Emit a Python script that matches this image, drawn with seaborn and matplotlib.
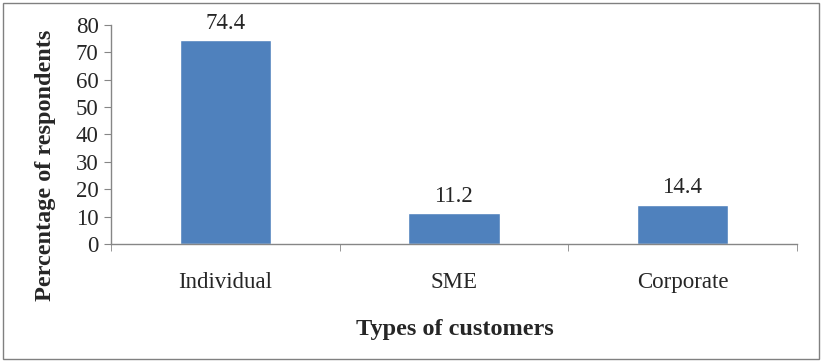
import matplotlib
matplotlib.use("Agg")
from matplotlib import pyplot as plt
from matplotlib.patches import Rectangle
import seaborn as sns
import pandas as pd

customers = ["Individual", "SME", "Corporate"]
percent = [74.4, 11.2, 14.4]
y_ticks = [0, 10, 20, 30, 40, 50, 60, 70, 80]

sns.set_style("white")
plt.rcParams['font.family'] = ['Liberation Serif', 'DejaVu Serif']

df = pd.DataFrame({"type": customers, "pct": percent})

fig = plt.figure(figsize=(8.23, 3.62), dpi=100)
ax = fig.add_axes([0.135, 0.326, 0.833, 0.605])
sns.barplot(data=df, x="type", y="pct", color="#4F81BD", saturation=1,
            width=0.4, ax=ax)

for i, v in enumerate(percent):
    ax.text(i, v + 2.3, f"{v}", ha="center", va="bottom", fontsize=16.5)

ax.set_xlim(-0.5, 2.5)
ax.set_ylim(0, 80)
ax.set_yticks(y_ticks)
ax.set_xticks([-0.5, 0.5, 1.5, 2.5], minor=True)
ax.tick_params(axis="x", which="major", length=0, pad=20, labelsize=16.5)
ax.tick_params(axis="x", which="minor", length=5, color="#868686", direction="out", bottom=True)
ax.tick_params(axis="y", length=5, color="#868686", direction="out", left=True, labelsize=16.5, pad=4)

for s in ["top", "right"]:
    ax.spines[s].set_visible(False)
for s in ["left", "bottom"]:
    ax.spines[s].set_color("#868686")
    ax.spines[s].set_linewidth(1)

ax.set_xlabel("Types of customers", fontsize=17.5, fontweight="bold")
ax.set_ylabel("Percentage of respondents", fontsize=17.5, fontweight="bold")
ax.xaxis.set_label_coords(0.501, -0.342)
ax.yaxis.set_label_coords(-0.081, 0.36)

fig.patches.append(Rectangle((0.004, 0.008), 0.991, 0.983, transform=fig.transFigure,
                             fill=False, edgecolor="#808080", linewidth=1))

fig.savefig("out.png", dpi=100)
